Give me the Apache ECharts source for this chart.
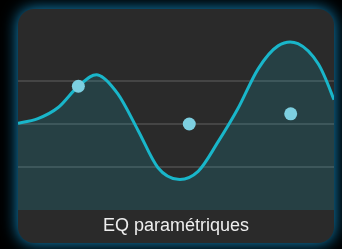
<!DOCTYPE html>
<html>
<head>
<meta charset="utf-8">
<script src="https://cdn.jsdelivr.net/npm/echarts@6/dist/echarts.min.js"></script>
<style>
  html, body { margin: 0; padding: 0; background: #000; }
  #chart { width: 342px; height: 249px; }
</style>
</head>
<body>
<div id="chart"></div>
<script>
// position along the band (0-100) and gain in dB
const curveX = [0, 6.3, 12.7, 19.1, 25.3, 31.6, 38.0, 44.3, 50.6, 57.0, 63.3, 69.6, 76.0, 82.3, 88.6, 95.0, 100];
const curveGain = [0.1, 0.75, 2.3, 5.27, 6.85, 4.2, -0.9, -6.1, -7.72, -6.6, -2.5, 2.15, 7.7, 10.9, 11.2, 8.4, 3.4];

// control points of the three bands
const bandX = [19.1, 54.2, 86.3];
const bandGain = [5.27, 0, 1.42];

const yTicks = [-12, -6, 0, 6, 12];
const title = 'EQ paramétriques';

const chart = echarts.init(document.getElementById('chart'));

const gridLine = 'rgba(255,255,255,0.13)';

// smooth path (catmull-rom) through the points given in pixels
function curvePath(pts) {
    let d = 'M' + pts[0][0] + ' ' + pts[0][1];
    for (let i = 0; i < pts.length - 1; i++) {
        const p0 = pts[Math.max(i - 1, 0)];
        const p1 = pts[i];
        const p2 = pts[i + 1];
        const p3 = pts[Math.min(i + 2, pts.length - 1)];
        const c1x = p1[0] + (p2[0] - p0[0]) / 6;
        const c1y = p1[1] + (p2[1] - p0[1]) / 6;
        const c2x = p2[0] - (p3[0] - p1[0]) / 6;
        const c2y = p2[1] - (p3[1] - p1[1]) / 6;
        d += ' C' + c1x + ' ' + c1y + ' ' + c2x + ' ' + c2y + ' ' + p2[0] + ' ' + p2[1];
    }
    return d;
}

const renderCurve = (params, api) => {
    if (params.dataIndex !== 0) return null;
    const pts = curveX.map((x, i) => api.coord([x, curveGain[i]]));
    const bottom = api.coord([0, yTicks[0]])[1];
    const line = curvePath(pts);
    const last = pts[pts.length - 1];
    const area = line + ' L' + last[0] + ' ' + bottom + ' L' + pts[0][0] + ' ' + bottom + ' Z';
    return {
        type: 'group',
        children: [
            {
                type: 'path',
                shape: { pathData: area },
                style: { fill: 'rgba(25,180,200,0.17)', stroke: null }
            },
            {
                type: 'path',
                shape: { pathData: line },
                style: { fill: null, stroke: '#19b6ca', lineWidth: 3 }
            }
        ]
    };
};

const option = {
    backgroundColor: '#000',
    animation: false,
    graphic: [
        {
            type: 'rect',
            z: -10,
            shape: { x: 18, y: 9, width: 316, height: 234, r: 16 },
            style: {
                fill: '#2a2a2a',
                shadowBlur: 16,
                shadowColor: 'rgba(20,150,210,0.95)'
            }
        },
        {
            type: 'text',
            z: 10,
            x: 176,
            y: 226,
            style: {
                text: title,
                fill: '#eeeeee',
                font: '18px "Liberation Sans", Arial, sans-serif',
                textAlign: 'center',
                textVerticalAlign: 'middle'
            }
        }
    ],
    grid: { left: 18, right: 8, top: 38, bottom: 39 },
    xAxis: {
        type: 'value',
        min: 0,
        max: 100,
        show: false
    },
    yAxis: {
        type: 'value',
        min: yTicks[0],
        max: yTicks[yTicks.length - 1],
        interval: 6,
        axisLine: { show: false },
        axisTick: { show: false },
        axisLabel: { show: false },
        splitLine: {
            show: true,
            lineStyle: {
                // hide the lines on the edges
                color: ['transparent', gridLine, gridLine, gridLine, 'transparent'],
                width: 2
            }
        }
    },
    series: [
        {
            type: 'custom',
            renderItem: renderCurve,
            data: curveX.map((x, i) => [x, curveGain[i]]),
            clip: true,
            z: 2
        },
        {
            type: 'scatter',
            data: bandX.map((x, i) => [x, bandGain[i]]),
            symbolSize: 13,
            itemStyle: { color: '#7dcfe0', opacity: 1 },
            z: 3
        }
    ]
};

option && chart.setOption(option);
</script>
</body>
</html>
